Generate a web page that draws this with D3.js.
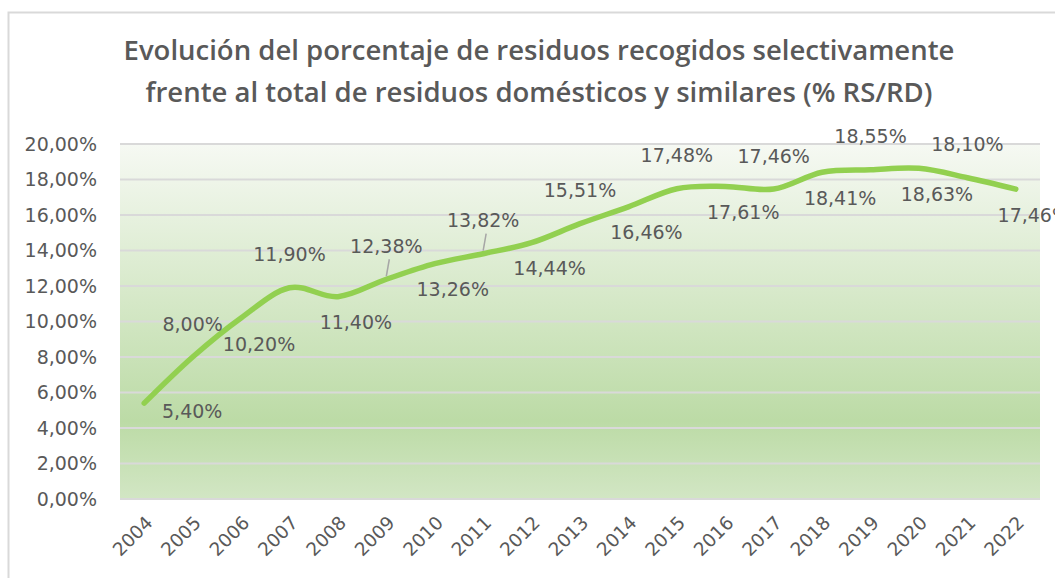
<!DOCTYPE html>
<html>
<head>
<meta charset="utf-8">
<script src="https://cdn.jsdelivr.net/npm/d3@7"></script>
<style>
  body { margin: 0; background: #fff; }
  svg { display: block; }
</style>
</head>
<body>
<svg width="1055" height="578"></svg>
<script>
// data
const years = ['2004','2005','2006','2007','2008','2009','2010','2011','2012','2013',
               '2014','2015','2016','2017','2018','2019','2020','2021','2022']
const values = [5.40, 8.00, 10.20, 11.90, 11.40, 12.38, 13.26, 13.82, 14.44, 15.51,
                16.46, 17.48, 17.61, 17.46, 18.41, 18.55, 18.63, 18.10, 17.46]
const yTicks = [0, 2, 4, 6, 8, 10, 12, 14, 16, 18, 20]
const titleLines = ['Evolución del porcentaje de residuos recogidos selectivamente',
                    'frente al total de residuos domésticos y similares (% RS/RD)']
const leaderYears = ['2009', '2011']

const svg = d3.select('svg')
const width = +svg.attr('width')
const height = +svg.attr('height')

const textColor = '#595959'
const gridColor = '#d9d9d9'
const fmt = v => v.toFixed(2).replace('.', ',') + '%'

// chart border
svg.append('rect')
    .attr('x', 8.5).attr('y', 12.5)
    .attr('width', width + 20).attr('height', height + 20)
    .attr('fill', '#fff')
    .attr('stroke', gridColor)
    .attr('stroke-width', 2)

// title
svg.append('text')
    .attr('x', 539)
    .attr('font-family', '"Open Sans", sans-serif')
    .attr('font-weight', 600)
    .attr('font-size', 27.5)
    .attr('fill', textColor)
    .attr('text-anchor', 'middle')
  .selectAll('tspan')
  .data(titleLines)
  .join('tspan')
    .attr('x', 539)
    .attr('y', (d, i) => 60 + i * 42)
    .text(d => d)

//plot area
const plot = { left: 120, right: 1040, top: 144, bottom: 499 }

const x = d3.scalePoint()
    .domain(years)
    .range([plot.left, plot.right])
    .padding(0.5)

const y = d3.scaleLinear()
    .domain([0, 20])
    .range([plot.bottom, plot.top])

const defs = svg.append('defs')
const grad = defs.append('linearGradient')
    .attr('id', 'bg')
    .attr('x1', 0).attr('y1', 0).attr('x2', 0).attr('y2', 1)
grad.append('stop').attr('offset', 0).attr('stop-color', '#f6f9f3')
grad.append('stop').attr('offset', 0.78).attr('stop-color', '#bcdba6')
grad.append('stop').attr('offset', 1).attr('stop-color', '#d2e6c4')

svg.append('rect')
    .attr('x', plot.left).attr('y', plot.top)
    .attr('width', plot.right - plot.left)
    .attr('height', plot.bottom - plot.top)
    .attr('fill', 'url(#bg)')

// gridlines
svg.append('g')
  .selectAll('line')
  .data(yTicks)
  .join('line')
    .attr('x1', plot.left).attr('x2', plot.right)
    .attr('y1', d => y(d)).attr('y2', d => y(d))
    .attr('stroke', gridColor)
    .attr('stroke-width', 2)

// y axis labels
const yAxis = svg.append('g')
    .attr('transform', `translate(${plot.left}, 0)`)
    .call(d3.axisLeft(y).tickValues(yTicks).tickSize(0).tickPadding(23).tickFormat(fmt))
yAxis.select('.domain').remove()
yAxis.selectAll('text')
    .attr('font-family', '"DejaVu Sans", sans-serif')
    .attr('font-size', 19)
    .attr('fill', textColor)

// x axis labels, rotated
const xAxis = svg.append('g')
    .attr('transform', `translate(0, ${plot.bottom})`)
    .call(d3.axisBottom(x).tickSize(0).tickPadding(0))
xAxis.select('.domain').remove()
xAxis.selectAll('text')
    .attr('font-family', '"DejaVu Sans", sans-serif')
    .attr('font-size', 18.5)
    .attr('fill', textColor)
    .attr('text-anchor', 'end')
    .attr('dy', 0)
    .attr('y', 0)
    .attr('transform', 'translate(9, 25) rotate(-45)')

// the line
const line = d3.line()
    .x((d, i) => x(years[i]))
    .y(d => y(d))
    .curve(d3.curveCatmullRom.alpha(0))

svg.append('path')
    .datum(values)
    .attr('d', line)
    .attr('fill', 'none')
    .attr('stroke', '#92d050')
    .attr('stroke-width', 5.5)
    .attr('stroke-linecap', 'round')

// data labels: alternate below / above the line
const labelPos = (d, i) => {
    const px = x(years[i]), py = y(d)
    if (i % 2 === 1) return [px, py - 33]
    if (i === 0) return [px + 48, py + 8]
    return [px + 18, py + 26]
}

svg.append('g')
  .selectAll('line')
  .data(values.filter((d, i) => leaderYears.includes(years[i])))
  .join('line')
    .attr('x1', d => x(years[values.indexOf(d)]))
    .attr('y1', d => y(d) - 3)
    .attr('x2', d => x(years[values.indexOf(d)]) + 3)
    .attr('y2', d => y(d) - 20)
    .attr('stroke', '#a6a6a6')
    .attr('stroke-width', 1.5)

svg.append('g')
  .selectAll('text')
  .data(values)
  .join('text')
    .attr('x', (d, i) => labelPos(d, i)[0])
    .attr('y', (d, i) => labelPos(d, i)[1])
    .attr('dy', '0.35em')
    .attr('text-anchor', 'middle')
    .attr('font-family', '"DejaVu Sans", sans-serif')
    .attr('font-size', 19)
    .attr('fill', textColor)
    .text(d => fmt(d))
</script>
</body>
</html>
